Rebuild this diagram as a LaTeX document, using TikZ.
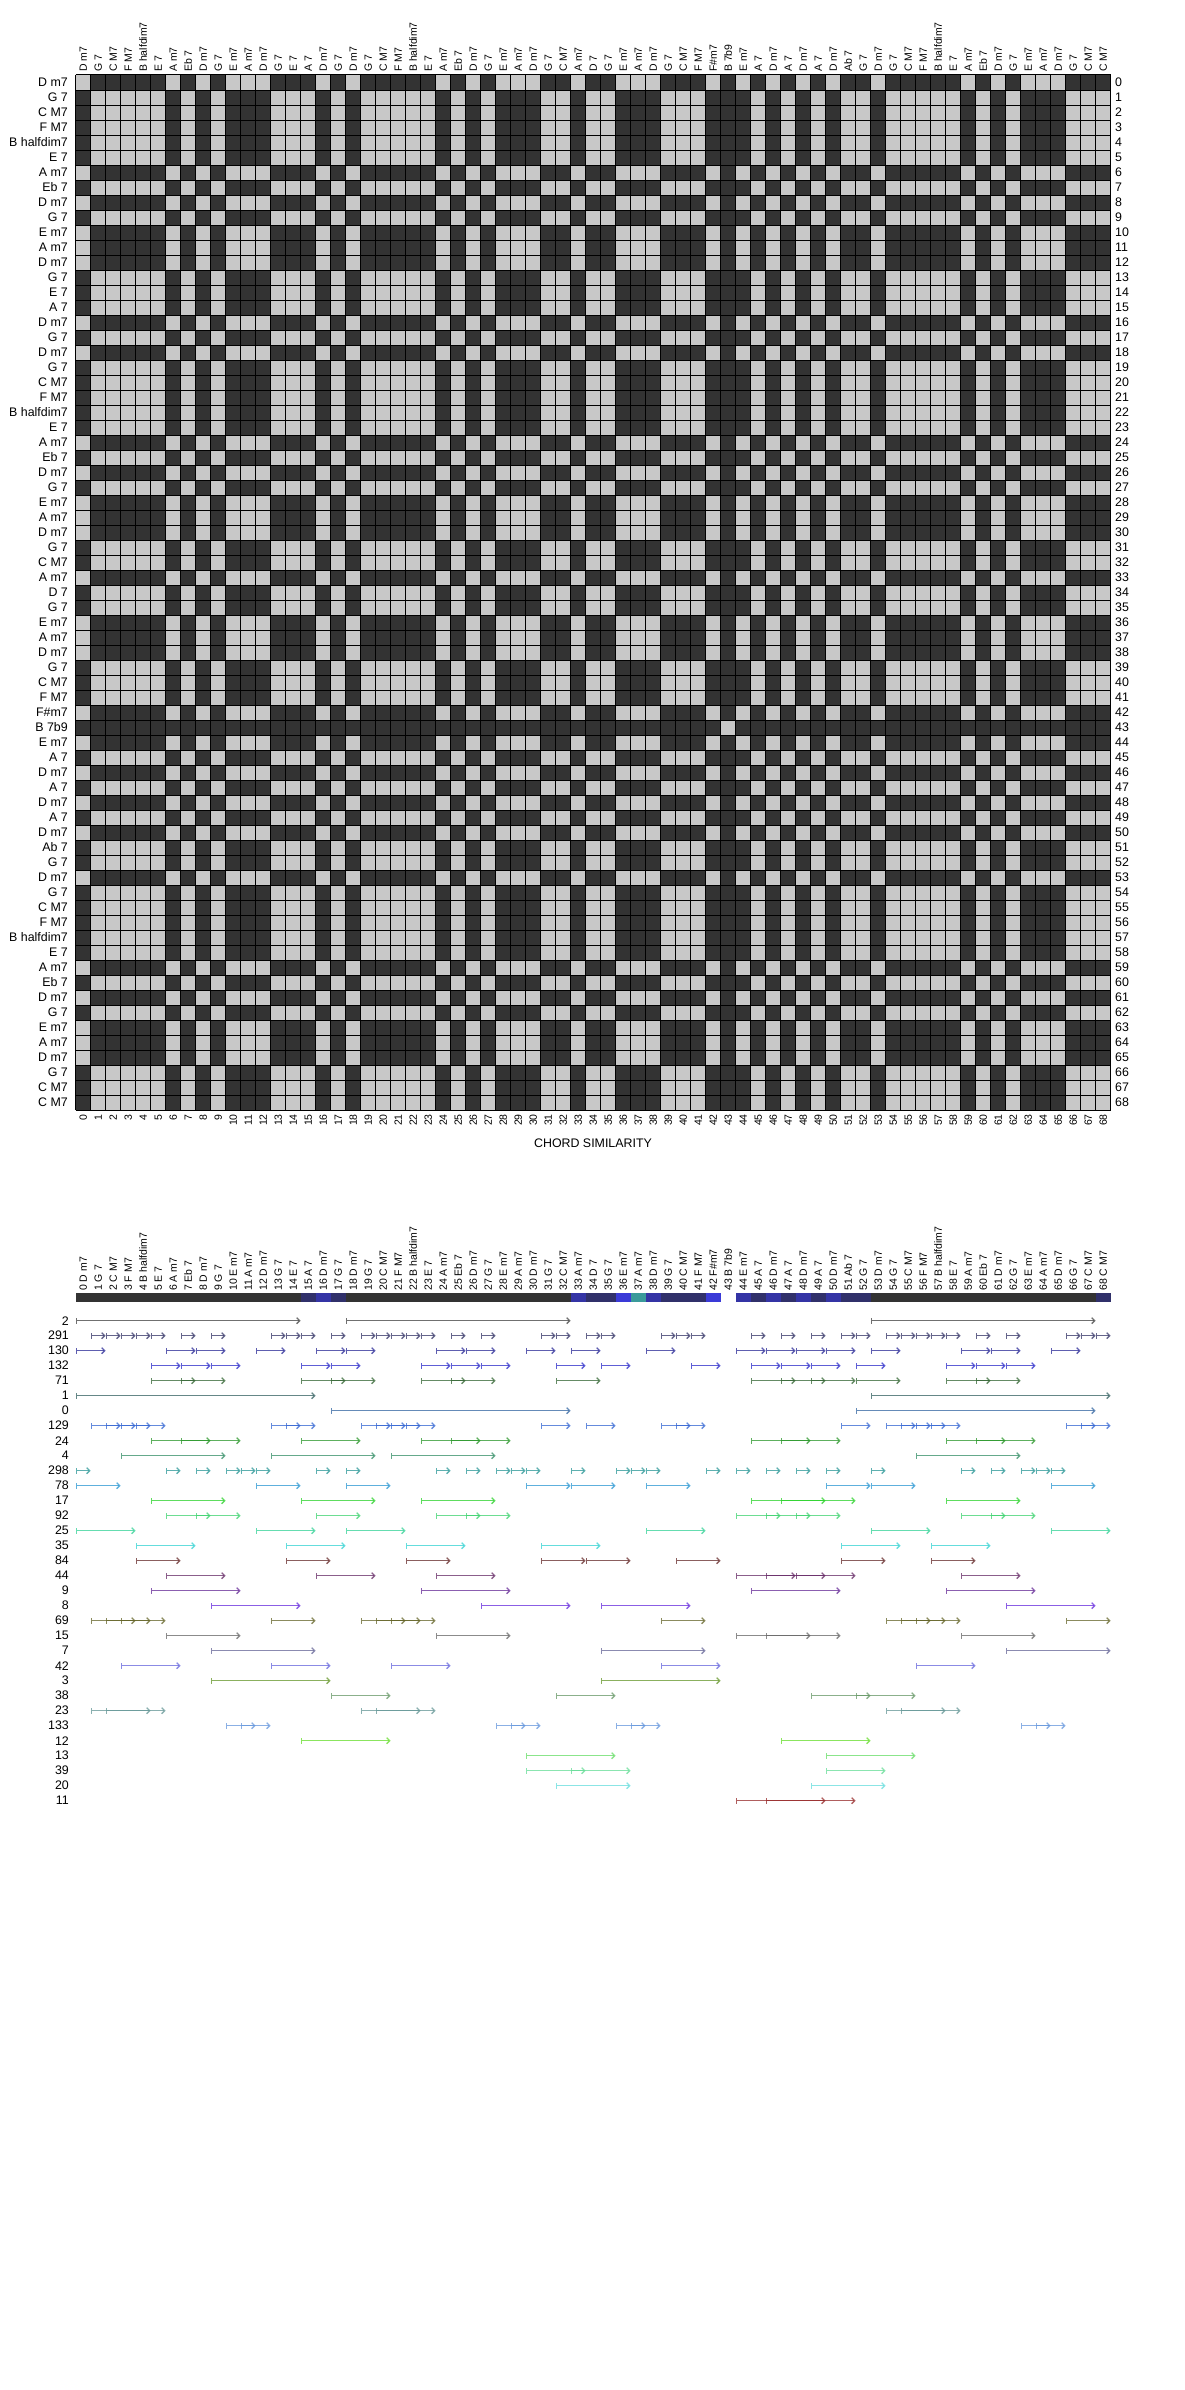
\documentclass[tikz,border=0pt]{standalone}
\usepackage{fontspec}
\setmainfont{Liberation Sans}
\usetikzlibrary{arrows.meta}

\definecolor{cellDark}{RGB}{51,51,51}
\definecolor{cellLight}{RGB}{200,200,200}
\definecolor{barNavy}{RGB}{48,48,106}
\definecolor{barBlue}{RGB}{52,52,165}
\definecolor{barBright}{RGB}{58,58,215}
\definecolor{barTeal}{RGB}{58,154,154}
% one colour per pattern row
\definecolor{pat2}{RGB}{64,64,64}
\definecolor{pat291}{RGB}{50,50,100}
\definecolor{pat130}{RGB}{40,40,150}
\definecolor{pat132}{RGB}{40,40,200}
\definecolor{pat71}{RGB}{50,100,50}
\definecolor{pat1}{RGB}{50,95,95}
\definecolor{pat0}{RGB}{50,100,160}
\definecolor{pat129}{RGB}{50,100,210}
\definecolor{pat24}{RGB}{40,150,40}
\definecolor{pat4}{RGB}{50,140,100}
\definecolor{pat298}{RGB}{40,150,150}
\definecolor{pat78}{RGB}{40,150,210}
\definecolor{pat17}{RGB}{40,210,40}
\definecolor{pat92}{RGB}{60,210,110}
\definecolor{pat25}{RGB}{50,210,150}
\definecolor{pat35}{RGB}{50,210,210}
\definecolor{pat84}{RGB}{100,40,40}
\definecolor{pat44}{RGB}{100,40,100}
\definecolor{pat9}{RGB}{100,40,150}
\definecolor{pat8}{RGB}{100,40,220}
\definecolor{pat69}{RGB}{100,100,40}
\definecolor{pat15}{RGB}{100,100,100}
\definecolor{pat7}{RGB}{100,100,150}
\definecolor{pat42}{RGB}{100,100,220}
\definecolor{pat3}{RGB}{100,150,40}
\definecolor{pat38}{RGB}{100,150,100}
\definecolor{pat23}{RGB}{100,150,150}
\definecolor{pat133}{RGB}{100,150,220}
\definecolor{pat12}{RGB}{100,220,40}
\definecolor{pat13}{RGB}{100,220,100}
\definecolor{pat39}{RGB}{100,220,150}
\definecolor{pat20}{RGB}{100,220,220}
\definecolor{pat11}{RGB}{150,40,40}

\def\chordnames{D m7,G 7,C M7,F M7,B halfdim7,E 7,A m7,Eb 7,D m7,G 7,E m7,A m7,D m7,G 7,E 7,A 7,D m7,G 7,D m7,G 7,C M7,F M7,B halfdim7,E 7,A m7,Eb 7,D m7,G 7,E m7,A m7,D m7,G 7,C M7,A m7,D 7,G 7,E m7,A m7,D m7,G 7,C M7,F M7,F\#m7,B 7b9,E m7,A 7,D m7,A 7,D m7,A 7,D m7,Ab 7,G 7,D m7,G 7,C M7,F M7,B halfdim7,E 7,A m7,Eb 7,D m7,G 7,E m7,A m7,D m7,G 7,C M7,C M7}
\def\minorset{0,6,8,10,11,12,16,18,24,26,28,29,30,33,36,37,38,42,44,46,48,50,53,59,61,63,64,65}
\def\otherset{1,2,3,4,5,7,9,13,14,15,17,19,20,21,22,23,25,27,31,32,34,35,39,40,41,45,47,49,51,52,54,55,56,57,58,60,62,66,67,68}

\begin{document}
\begin{tikzpicture}[x=1pt, y=-1pt,
  every node/.style={inner sep=0pt, font=\fontsize{12.4}{14}\selectfont},
  rowlab/.style={anchor=east},
  numlab/.style={anchor=west},
  collab/.style={rotate=90, font=\fontsize{10.5}{12}\selectfont},
  lightcell/.style={fill=cellLight},
  gridline/.style={draw=black, line width=1pt},
  occ/.style={line width=1.4pt, draw opacity=0.75, {Bar[width=6pt]}-{Straight Barb[length=3pt,width=6pt]}}]
\useasboundingbox (0,0) rectangle (1185,2390);

% similarity matrix
\fill[cellDark] (75.7,75) rectangle ++(1035,1035);
\foreach \i in \minorset {\foreach \j in \minorset {\fill[lightcell] (75.7+15*\j,75+15*\i) rectangle ++(15,15);}}
\foreach \i in \otherset {\foreach \j in \otherset {\fill[lightcell] (75.7+15*\j,75+15*\i) rectangle ++(15,15);}}
\fill[lightcell] (75.7+15*43,75+15*43) rectangle ++(15,15);
\foreach \k in {0,...,69} {
  \draw[gridline] (75.7+15*\k,75) -- ++(0,1035);
  \draw[gridline] (75.7,75+15*\k) -- ++(1035,0);
}

% chord labels
\foreach \name [count=\i from 0] in \chordnames {
  \node[rowlab] (row-\i) at (68,82.5+15*\i) {\name};
  \node[numlab] (rnum-\i) at (1115,82.5+15*\i) {\i};
  \node[collab, anchor=west] (col-\i) at (83.2+15*\i,72) {\name};
  \node[collab, anchor=east] (cnum-\i) at (83.2+15*\i,1114) {\i};
  \node[collab, anchor=west] (seq-\i) at (83.2+15*\i,1291) {\i{} \name};
}
\node (title) at (593,1143) {CHORD SIMILARITY};

% segment bar
\fill[cellDark] (75.7,1293) rectangle ++(1035,9);
\foreach \c/\colr in {15/barNavy,16/barBlue,17/barNavy,33/barBlue,34/barNavy,35/barNavy,36/barBright,37/barTeal,38/barBlue,39/barNavy,40/barNavy,41/barNavy,42/barBright,43/white,44/barBlue,45/barNavy,46/barBlue,47/barNavy,48/barBlue,49/barNavy,50/barBlue,51/barNavy,52/barNavy,68/barNavy}
  \fill[\colr] (75.7+15*\c,1293) rectangle ++(15,9);

% pattern occurrences
\foreach \lab/\ivs [count=\k from 0] in {
  2/{0/15,18/33,53/68},
  291/{1/2,2/3,3/4,4/5,5/6,7/8,9/10,13/14,14/15,15/16,17/18,19/20,20/21,21/22,22/23,23/24,25/26,27/28,31/32,32/33,34/35,35/36,39/40,40/41,41/42,45/46,47/48,49/50,51/52,52/53,54/55,55/56,56/57,57/58,58/59,60/61,62/63,66/67,67/68,68/69},
  130/{0/2,6/8,8/10,12/14,16/18,18/20,24/26,26/28,30/32,33/35,38/40,44/46,46/48,48/50,50/52,53/55,59/61,61/63,65/67},
  132/{5/7,7/9,9/11,15/17,17/19,23/25,25/27,27/29,32/34,35/37,41/43,45/47,47/49,49/51,52/54,58/60,60/62,62/64},
  71/{5/8,7/10,15/18,17/20,23/26,25/28,32/35,45/48,47/50,49/52,52/55,58/61,60/63},
  1/{0/16,53/69},
  0/{17/33,52/68},
  129/{1/3,2/4,3/5,4/6,13/15,14/16,19/21,20/22,21/23,22/24,31/33,34/36,39/41,40/42,51/53,54/56,55/57,56/58,57/59,66/68,67/69},
  24/{5/9,7/11,15/19,23/27,25/29,45/49,47/51,58/62,60/64},
  4/{3/10,13/20,21/28,56/63},
  298/{0/1,6/7,8/9,10/11,11/12,12/13,16/17,18/19,24/25,26/27,28/29,29/30,30/31,33/34,36/37,37/38,38/39,42/43,44/45,46/47,48/49,50/51,53/54,59/60,61/62,63/64,64/65,65/66},
  78/{0/3,12/15,18/21,30/33,33/36,38/41,50/53,53/56,65/68},
  17/{5/10,15/20,23/28,45/50,47/52,58/63},
  92/{6/9,8/11,16/19,24/27,26/29,44/47,46/49,48/51,59/62,61/64},
  25/{0/4,12/16,18/22,38/42,53/57,65/69},
  35/{4/8,14/18,22/26,31/35,51/55,57/61},
  84/{4/7,14/17,22/25,31/34,34/37,40/43,51/54,57/60},
  44/{6/10,16/20,24/28,44/48,46/50,48/52,59/63},
  9/{5/11,23/29,45/51,58/64},
  8/{9/15,27/33,35/41,62/68},
  69/{1/4,2/5,3/6,13/16,19/22,20/23,21/24,39/42,54/57,55/58,56/59,66/69},
  15/{6/11,24/29,44/49,46/51,59/64},
  7/{9/16,35/42,62/69},
  42/{3/7,13/17,21/25,39/43,56/60},
  3/{9/17,35/43},
  38/{17/21,32/36,49/53,52/56},
  23/{1/5,2/6,19/23,20/24,54/58,55/59},
  133/{10/12,11/13,28/30,29/31,36/38,37/39,63/65,64/66},
  12/{15/21,47/53},
  13/{30/36,50/56},
  39/{30/34,33/37,50/54},
  20/{32/37,49/54},
  11/{44/50,46/52}} {
  \node[rowlab] (pat-\lab) at (69,1320.7+15*\k) {\lab};
  \foreach \s/\e in \ivs
    \draw[occ, draw=pat\lab] (75.7+15*\s,1320.7+15*\k) -- (75.7+15*\e,1320.7+15*\k);
}
\end{tikzpicture}
\end{document}
